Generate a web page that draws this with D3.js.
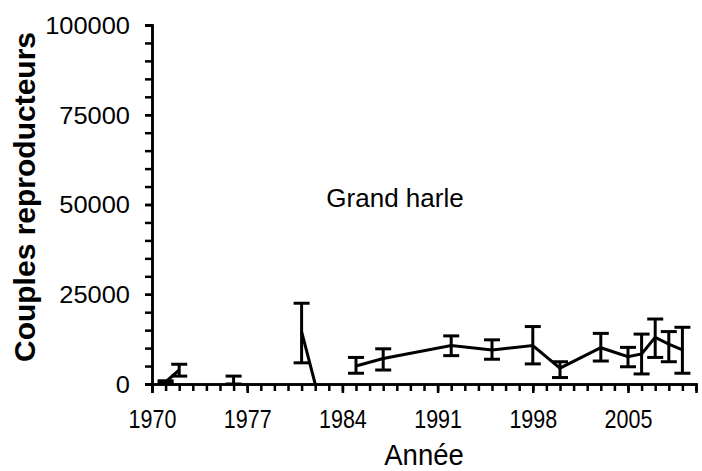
<!DOCTYPE html>
<html lang="fr">
<head>
    <meta charset="UTF-8">
    <title>Grand harle</title>
    <script src="https://cdnjs.cloudflare.com/ajax/libs/d3/7.8.5/d3.min.js"></script>
    <style>
    html, body {
        margin: 0;
        background: white;
    }
    text {
        font-family: "Liberation Sans", Arial, sans-serif;
        fill: black;
    }
    </style>
</head>
<body>
    <div id="chart"></div>
    <script>
    // data (null = break in the line)
    var years   = [1971, 1972, 1973, 1976, 1977, 1981, 1982, 1983, 1985, 1987, 1992, 1995, 1998, 2000, 2003, 2005, 2006, 2007, 2008, 2009];
    var couples = [600, 3900, null, 500, null, 14600, 0, null, 5000, 7100, 10700, 9500, 10700, 4400, 10100, 7600, 8400, 13000, 11100, 9500];
    var lows    = [300, 2200, null, 0, null, 5900, null, null, 3000, 3900, 7900, 6900, 5600, 1800, 6400, 4800, 2800, 7400, 6200, 3000];
    var highs   = [900, 5500, null, 2200, null, 22500, null, null, 7400, 9800, 13400, 12300, 16000, 6200, 14100, 10200, 13900, 18100, 14600, 15800];

    var xTickYears = [1970, 1977, 1984, 1991, 1998, 2005];
    var yTickValues = [0, 25000, 50000, 75000, 100000];
    var speciesLabel = 'Grand harle';

    var width = 702;
    var height = 471;
    var margin = { top: 25, right: 6, bottom: 87, left: 152 };

    var svg = d3.select('#chart')
        .append('svg')
            .attr('width', width)
            .attr('height', height);

    var x_scale = d3.scaleLinear()
        .domain([1970, 2010])
        .range([margin.left, width - margin.right]);

    var y_scale = d3.scaleLinear()
        .domain([0, 100000])
        .range([height - margin.bottom, margin.top]);

    var rows = years.map(function(y, i) {
        return { year: y, value: couples[i], low: lows[i], high: highs[i] };
    });

    // minor ticks first, labelled axes on top
    var xMinor = d3.axisBottom(x_scale)
        .tickValues(d3.range(1970, 2011, 1))
        .tickSize(7)
        .tickFormat('');

    var yMinor = d3.axisLeft(y_scale)
        .tickValues(d3.range(0, 100001, 5000))
        .tickSize(7)
        .tickFormat('');

    svg.append('g')
        .attr('transform', 'translate(0,' + y_scale(0) + ')')
        .call(xMinor);

    svg.append('g')
        .attr('transform', 'translate(' + x_scale(1970) + ',0)')
        .call(yMinor);

    var gx = svg.append('g')
        .attr('transform', 'translate(0,' + y_scale(0) + ')')
        .call(d3.axisBottom(x_scale).tickValues(xTickYears).tickSize(9).tickFormat(d3.format('d')));

    var gy = svg.append('g')
        .attr('transform', 'translate(' + x_scale(1970) + ',0)')
        .call(d3.axisLeft(y_scale).tickValues(yTickValues).tickSize(7).tickFormat(d3.format('d')));

    svg.selectAll('.domain, .tick line')
        .attr('stroke', 'black')
        .attr('stroke-width', 2.5);

    // x labels are drawn narrow, y labels slightly wide, as in the original
    gx.selectAll('text')
        .attr('font-size', 25)
        .attr('font-family', '"Liberation Sans", Arial, sans-serif')
        .attr('y', 0)
        .attr('dy', 0)
        .attr('transform', 'translate(0,44) scale(0.86,1)');

    gy.selectAll('text')
        .attr('font-size', 24)
        .attr('font-family', '"Liberation Sans", Arial, sans-serif')
        .attr('x', 0)
        .attr('dy', '0.35em')
        .attr('transform', 'translate(-22,0) scale(1.06,1)');

    // line
    var line = d3.line()
        .defined(function(d) { return d.value !== null; })
        .x(function(d) { return x_scale(d.year); })
        .y(function(d) { return y_scale(d.value); });

    svg.append('path')
        .datum(rows)
        .attr('fill', 'none')
        .attr('stroke', 'black')
        .attr('stroke-width', 3)
        .attr('d', line);

    // error bars
    var bars = rows.filter(function(d) { return d.low !== null; });
    var cap = 8;

    var eb = svg.selectAll('.errbar')
        .data(bars)
        .enter()
        .append('g')
        .attr('class', 'errbar')
        .attr('stroke', 'black')
        .attr('stroke-width', 3);

    eb.append('line')
        .attr('x1', function(d) { return x_scale(d.year); })
        .attr('x2', function(d) { return x_scale(d.year); })
        .attr('y1', function(d) { return y_scale(d.low); })
        .attr('y2', function(d) { return y_scale(d.high); });

    eb.append('line')
        .attr('x1', function(d) { return x_scale(d.year) - cap; })
        .attr('x2', function(d) { return x_scale(d.year) + cap; })
        .attr('y1', function(d) { return y_scale(d.high); })
        .attr('y2', function(d) { return y_scale(d.high); });

    eb.append('line')
        .attr('x1', function(d) { return x_scale(d.year) - cap; })
        .attr('x2', function(d) { return x_scale(d.year) + cap; })
        .attr('y1', function(d) { return y_scale(d.low); })
        .attr('y2', function(d) { return y_scale(d.low); });

    // labels
    svg.append('text')
        .attr('x', 395)
        .attr('y', 207)
        .attr('text-anchor', 'middle')
        .attr('font-size', 26)
        .text(speciesLabel);

    svg.append('text')
        .attr('transform', 'translate(424,465) scale(0.95,1)')
        .attr('text-anchor', 'middle')
        .attr('font-size', 29)
        .text('Année');

    svg.append('text')
        .attr('transform', 'translate(35,197) rotate(-90)')
        .attr('text-anchor', 'middle')
        .attr('font-size', 30)
        .attr('font-weight', 'bold')
        .text('Couples reproducteurs');
    </script>
</body>
</html>
